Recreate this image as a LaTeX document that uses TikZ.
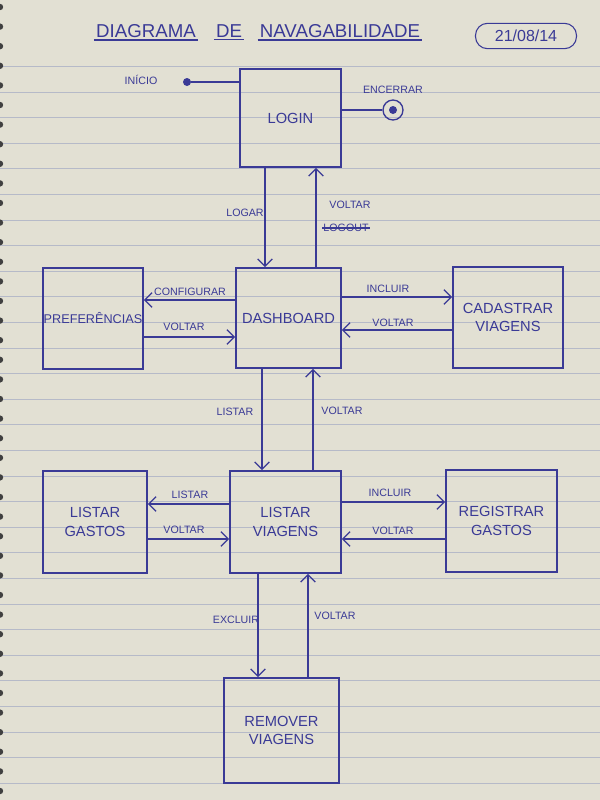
\documentclass[tikz,border=0pt]{standalone}
\usepackage{fontspec}
\setmainfont{Liberation Sans}
\usetikzlibrary{arrows.meta}
\definecolor{tinta}{RGB}{58,58,150}
\definecolor{papel}{RGB}{226,224,211}
\definecolor{pauta}{RGB}{182,186,200}
\tikzset{
  tela/.style={draw=tinta, line width=1.2pt, inner sep=0pt, text=tinta, align=center, font=\fontsize{11}{14}\selectfont},
  seta/.style={draw=tinta, line width=1pt, -{Straight Barb[length=5.5pt,width=11pt]}},
  linha/.style={draw=tinta, line width=1pt},
  rotulo/.style={text=tinta, inner sep=0.75pt, font=\fontsize{8}{9}\selectfont},
  titulo/.style={text=tinta, inner sep=1.5pt, font=\fontsize{14}{16}\selectfont},
}
\begin{document}
\begin{tikzpicture}[x=0.75pt,y=0.75pt,yscale=-1,xscale=1]
    \useasboundingbox (0,0) rectangle (600,800);
    %paper, ruled lines and spiral holes
    \fill[papel] (0,0) rectangle (600,800);
    \foreach \k in {0,...,28}
      \draw[pauta, line width=0.6pt] (0,66.4+25.6*\k) -- (600,66.4+25.6*\k);
    \foreach \k in {0,...,40}
      \fill[black!75] (0,7+19.6*\k) circle [radius=3.2];

    % Title
    \node[titulo] (t1) at (146,31) {DIAGRAMA};
    \node[titulo] (t2) at (229,31) {DE};
    \node[titulo] (t3) at (340,31) {NAVAGABILIDADE};
    \draw[linha] (t1.south west) -- (t1.south east);
    \draw[linha] (t2.south west) -- (t2.south east);
    \draw[linha] (t3.south west) -- (t3.south east);
    % Date
    \node[draw=tinta, line width=0.8pt, rounded corners=9pt, minimum width=75.75pt, minimum height=19pt, text=tinta, font=\fontsize{12}{14}\selectfont] (data) at (526,36) {21/08/14};

    %Shape: Rectangle boxes
    \node[tela, minimum width=75.75pt, minimum height=73.5pt] (login) at (290.5,118) {LOGIN};
    \node[tela, minimum width=78.75pt, minimum height=75pt] (dash) at (288.5,318) {DASHBOARD};
    \node[tela, minimum width=75pt, minimum height=75.75pt, font=\fontsize{9.5}{12}\selectfont] (pref) at (93,318.5) {PREFERÊNCIAS};
    \node[tela, minimum width=82.5pt, minimum height=75.75pt] (cad) at (508,317.5) {CADASTRAR\\VIAGENS};
    \node[tela, minimum width=83.25pt, minimum height=76.5pt] (lv) at (285.5,522) {LISTAR\\VIAGENS};
    \node[tela, minimum width=78pt, minimum height=76.5pt] (lg) at (95,522) {LISTAR\\GASTOS};
    \node[tela, minimum width=83.25pt, minimum height=76.5pt] (rg) at (501.5,521) {REGISTRAR\\GASTOS};
    \node[tela, minimum width=86.25pt, minimum height=78.75pt] (rem) at (281.5,730.5) {REMOVER\\VIAGENS};

    %Start and end
    \node[circle, fill=tinta, inner sep=0pt, minimum size=6pt] (inicio) at (187,82) {};
    \draw[linha] (inicio) -- (login.west |- inicio);
    \node[rotulo] (tinicio) at (141,80) {INÍCIO};
    \node[circle, draw=tinta, line width=1pt, inner sep=0pt, minimum size=15pt] (fim) at (393,110) {};
    \fill[tinta] (fim.center) circle [radius=4];
    \draw[linha] (login.east |- fim) -- (fim);
    \node[rotulo] (tfim) at (393,90) {ENCERRAR};

    %Login <-> Dashboard
    \draw[seta] (login.south -| 265,0) -- (dash.north -| 265,0);
    \draw[seta] (dash.north -| 316,0) -- (login.south -| 316,0);
    \node[rotulo] (tlogar) at (245,213) {LOGAR};
    \node[rotulo] (tvoltar1) at (350,205) {VOLTAR};
    \node[rotulo] (tlogout) at (346,228) {LOGOUT};
    \draw[linha] (tlogout.west) -- (tlogout.east);

    %Dashboard <-> Preferencias
    \draw[seta] (dash.west |- 0,300) -- (pref.east |- 0,300);
    \draw[seta] (pref.east |- 0,337) -- (dash.west |- 0,337);
    \node[rotulo] (tconfig) at (190,292) {CONFIGURAR};
    \node[rotulo] (tvoltar2) at (184,327) {VOLTAR};

    %Dashboard <-> Cadastrar viagens
    \draw[seta] (dash.east |- 0,297) -- (cad.west |- 0,297);
    \draw[seta] (cad.west |- 0,330) -- (dash.east |- 0,330);
    \node[rotulo] (tincluir1) at (388,289) {INCLUIR};
    \node[rotulo] (tvoltar3) at (393,323) {VOLTAR};

    %Dashboard <-> Listar viagens
    \draw[seta] (dash.south -| 262,0) -- (lv.north -| 262,0);
    \draw[seta] (lv.north -| 313,0) -- (dash.south -| 313,0);
    \node[rotulo] (tlistar1) at (235,412) {LISTAR};
    \node[rotulo] (tvoltar4) at (342,411) {VOLTAR};

    %Listar viagens <-> Listar gastos
    \draw[seta] (lv.west |- 0,504) -- (lg.east |- 0,504);
    \draw[seta] (lg.east |- 0,539) -- (lv.west |- 0,539);
    \node[rotulo] (tlistar2) at (190,495) {LISTAR};
    \node[rotulo] (tvoltar5) at (184,530) {VOLTAR};

    %Listar viagens <-> Registrar gastos
    \draw[seta] (lv.east |- 0,502) -- (rg.west |- 0,502);
    \draw[seta] (rg.west |- 0,539) -- (lv.east |- 0,539);
    \node[rotulo] (tincluir2) at (390,493) {INCLUIR};
    \node[rotulo] (tvoltar6) at (393,531) {VOLTAR};

    %Listar viagens <-> Remover viagens
    \draw[seta] (lv.south -| 258,0) -- (rem.north -| 258,0);
    \draw[seta] (rem.north -| 308,0) -- (lv.south -| 308,0);
    \node[rotulo] (texcluir) at (236,620) {EXCLUIR};
    \node[rotulo] (tvoltar7) at (335,616) {VOLTAR};
\end{tikzpicture}
\end{document}
